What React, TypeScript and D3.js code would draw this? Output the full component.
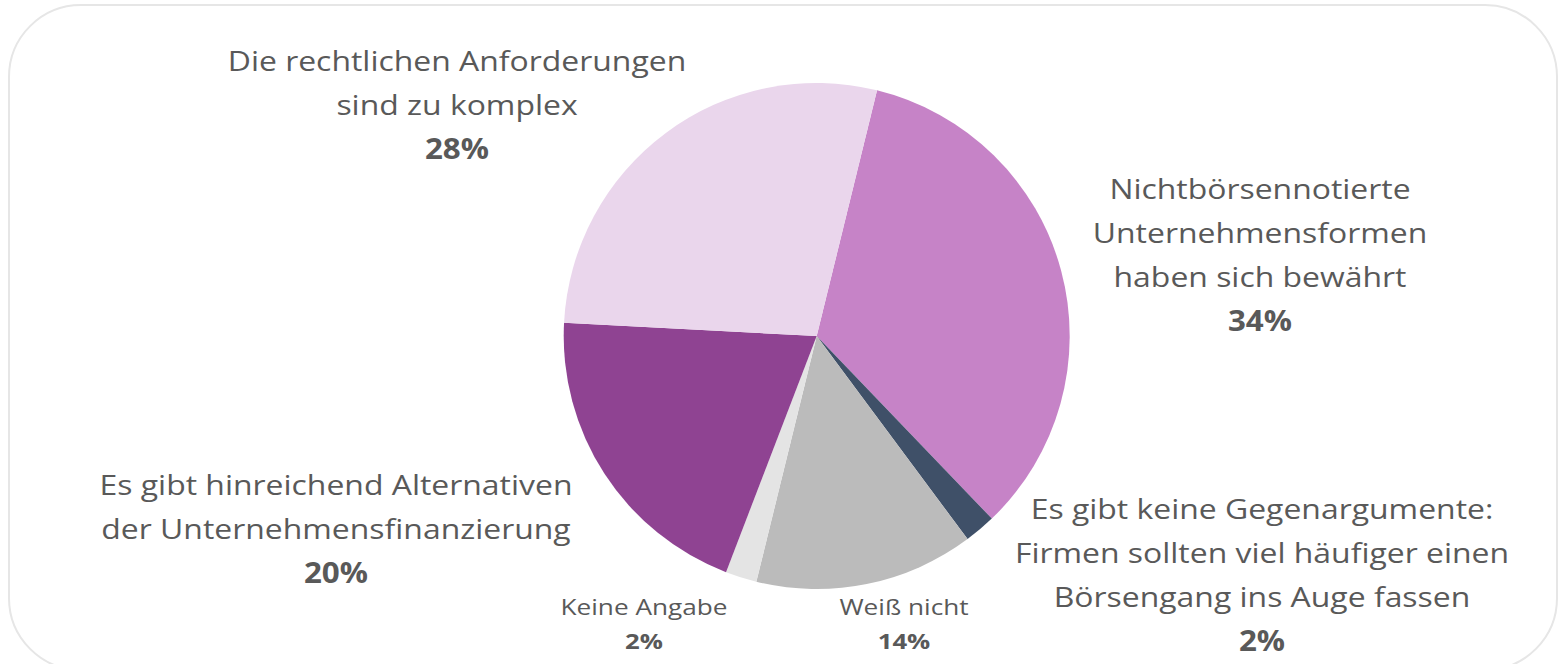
import React from "react";
import * as d3 from "d3";

const categories = [
  "Nichtbörsennotierte Unternehmensformen haben sich bewährt",
  "Es gibt keine Gegenargumente: Firmen sollten viel häufiger einen Börsengang ins Auge fassen",
  "Weiß nicht",
  "Keine Angabe",
  "Es gibt hinreichend Alternativen der Unternehmensfinanzierung",
  "Die rechtlichen Anforderungen sind zu komplex",
];
const values = [34, 2, 14, 2, 20, 28];
const colors = ["#C683C7", "#3F5068", "#BBBBBB", "#E4E4E4", "#8F4392", "#EAD6EC"];

// label lines as shown in the chart
const labelLines = [
  ["Nichtbörsennotierte", "Unternehmensformen", "haben sich bewährt"],
  ["Es gibt keine Gegenargumente:", "Firmen sollten viel häufiger einen", "Börsengang ins Auge fassen"],
  ["Weiß nicht"],
  ["Keine Angabe"],
  ["Es gibt hinreichend Alternativen", "der Unternehmensfinanzierung"],
  ["Die rechtlichen Anforderungen", "sind zu komplex"],
];

const W = 1562;
const H = 664;

export default function App() {
  const cx = 816.7;
  const cy = 336;
  const r = 253;
  const start = (13.8 * Math.PI) / 180;

  const pie = d3
    .pie<number>()
    .sort(null)
    .value((d) => d)
    .startAngle(start)
    .endAngle(start + 2 * Math.PI);
  const arcs = pie(values);
  const arc = d3.arc<d3.PieArcDatum<number>>().innerRadius(0).outerRadius(r);

  // label anchor: center x and first line y, font size, line height, x-stretch
  const labelPos = [
    { x: 1260, y: 199, fs: 28, lh: 44, sx: 1.14 },
    { x: 1262, y: 519, fs: 28, lh: 44, sx: 1.14 },
    { x: 904, y: 615, fs: 22, lh: 34, sx: 1.19 },
    { x: 644, y: 615, fs: 22, lh: 34, sx: 1.19 },
    { x: 336, y: 495, fs: 28, lh: 44, sx: 1.14 },
    { x: 457, y: 71, fs: 28, lh: 44, sx: 1.14 },
  ];

  return (
    <svg
      width={W}
      height={H}
      style={{ position: "absolute", left: 0, top: 0 }}
      fontFamily="'Open Sans', sans-serif"
    >
      <rect x={0} y={0} width={W} height={H} fill="#ffffff" />
      <rect
        x={9}
        y={5}
        width={1548}
        height={665}
        rx={72}
        ry={72}
        fill="none"
        stroke="#E6E6E6"
        strokeWidth={2}
      />
      <g transform={`translate(${cx},${cy})`}>
        {arcs.map((a, i) => (
          <path key={categories[i]} d={arc(a) || ""} fill={colors[i]} />
        ))}
      </g>
      {labelLines.map((lines, i) => {
        const p = labelPos[i];
        return (
          <g key={i} textAnchor="middle" fill="#595959">
            {lines.map((t, j) => (
              <text
                key={j}
                transform={`translate(${p.x},${p.y + j * p.lh}) scale(${p.sx},1)`}
                fontSize={p.fs}
              >
                {t}
              </text>
            ))}
            <text
              transform={`translate(${p.x},${p.y + lines.length * p.lh}) scale(${p.sx - 0.02},1)`}
              fontSize={p.fs}
              fontWeight="bold"
            >
              {values[i]}%
            </text>
          </g>
        );
      })}
    </svg>
  );
}
